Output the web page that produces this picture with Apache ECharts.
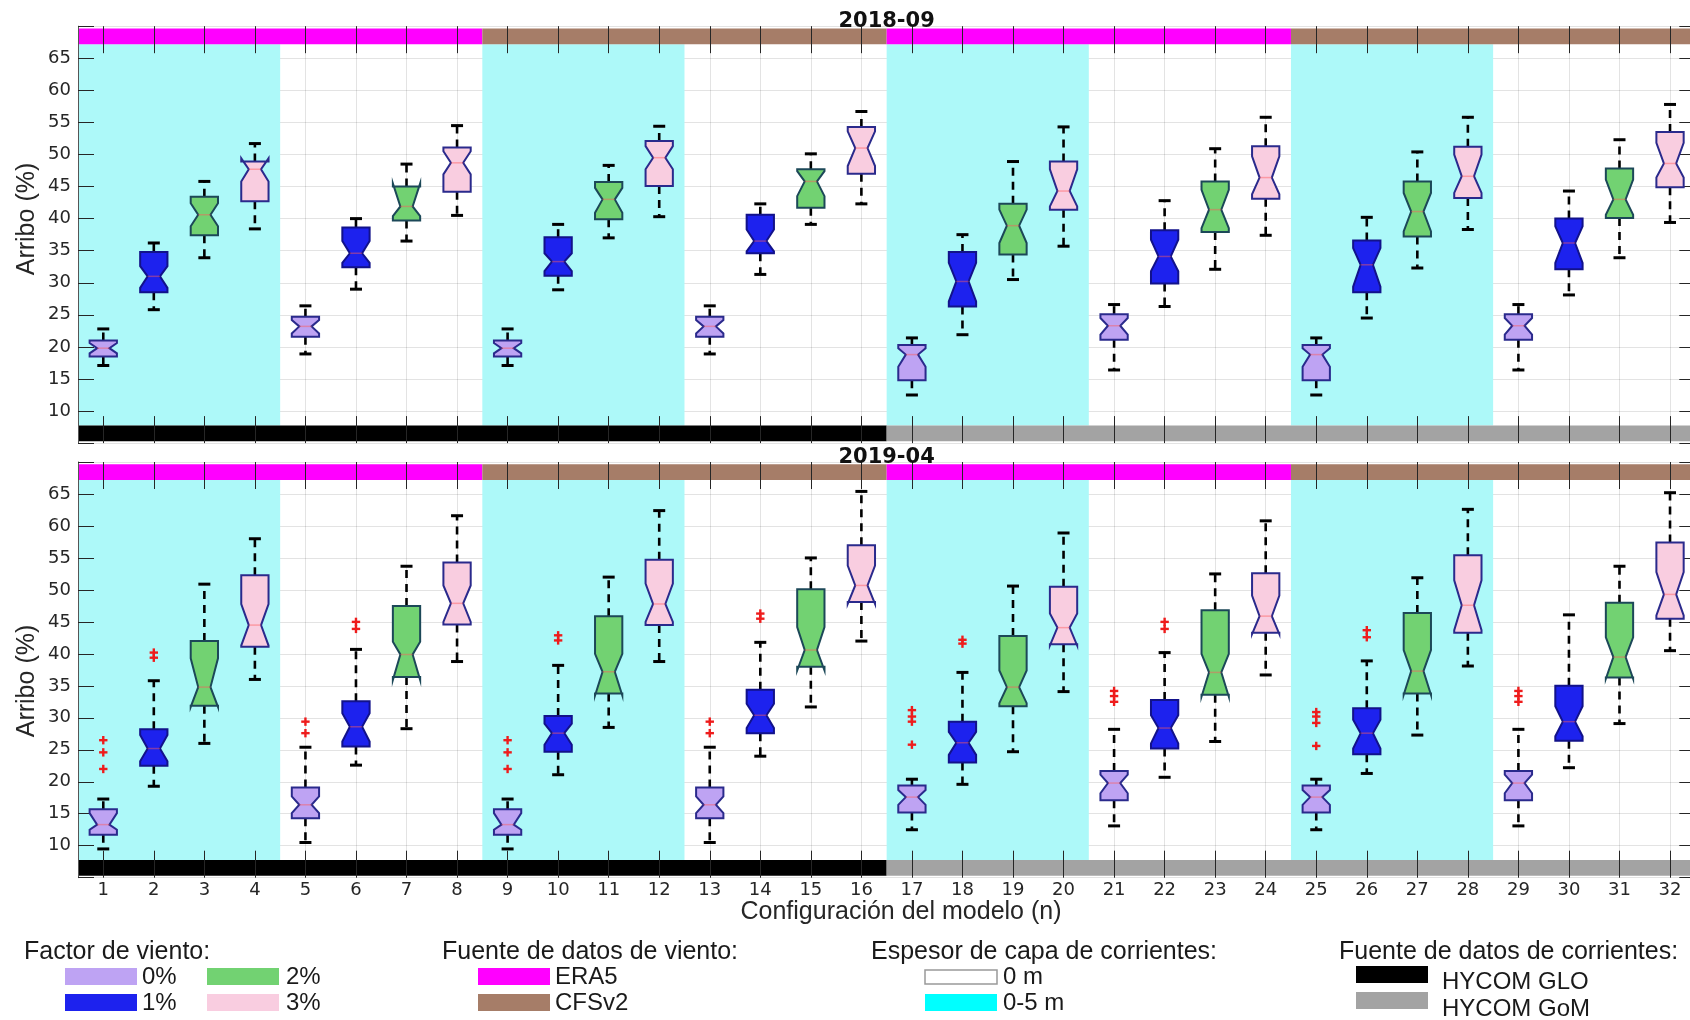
<!DOCTYPE html>
<html><head><meta charset="utf-8">
<script src="https://cdn.jsdelivr.net/npm/echarts@6/dist/echarts.min.js"></script>
<style>html,body{margin:0;padding:0;background:#fff}#c{width:1690px;height:1020px}</style>
</head><body><div id="c"></div>
<script>
// ---------------- categories ----------------
const configs = [1,2,3,4,5,6,7,8,9,10,11,12,13,14,15,16,17,18,19,20,21,22,23,24,25,26,27,28,29,30,31,32];
const yTicks = [10,15,20,25,30,35,40,45,50,55,60,65];
const windFactor = ['0%','1%','2%','3%','0%','1%','2%','3%','0%','1%','2%','3%','0%','1%','2%','3%',
                    '0%','1%','2%','3%','0%','1%','2%','3%','0%','1%','2%','3%','0%','1%','2%','3%'];
const windSource = ['ERA5','ERA5','ERA5','ERA5','ERA5','ERA5','ERA5','ERA5','CFSv2','CFSv2','CFSv2','CFSv2','CFSv2','CFSv2','CFSv2','CFSv2',
                    'ERA5','ERA5','ERA5','ERA5','ERA5','ERA5','ERA5','ERA5','CFSv2','CFSv2','CFSv2','CFSv2','CFSv2','CFSv2','CFSv2','CFSv2'];
const layerDepth = ['0-5 m','0-5 m','0-5 m','0-5 m','0 m','0 m','0 m','0 m','0-5 m','0-5 m','0-5 m','0-5 m','0 m','0 m','0 m','0 m',
                    '0-5 m','0-5 m','0-5 m','0-5 m','0 m','0 m','0 m','0 m','0-5 m','0-5 m','0-5 m','0-5 m','0 m','0 m','0 m','0 m'];
const currentSource = ['HYCOM GLO','HYCOM GLO','HYCOM GLO','HYCOM GLO','HYCOM GLO','HYCOM GLO','HYCOM GLO','HYCOM GLO',
                       'HYCOM GLO','HYCOM GLO','HYCOM GLO','HYCOM GLO','HYCOM GLO','HYCOM GLO','HYCOM GLO','HYCOM GLO',
                       'HYCOM GoM','HYCOM GoM','HYCOM GoM','HYCOM GoM','HYCOM GoM','HYCOM GoM','HYCOM GoM','HYCOM GoM',
                       'HYCOM GoM','HYCOM GoM','HYCOM GoM','HYCOM GoM','HYCOM GoM','HYCOM GoM','HYCOM GoM','HYCOM GoM'];
const panelTitles = ['2018-09','2019-04'];

// ---------------- 2018-09 box statistics ----------------
const top_lo  = [17.1,25.8,33.9,38.4,18.9,29.0,36.5,40.5, 17.1,28.9,37.0,40.3,18.9,31.3,39.1,42.3, 12.5,21.9,30.5,35.7,16.4,26.3,32.1,37.4, 12.5,24.5,32.3,38.3,16.4,28.1,33.9,39.4];
const top_q1  = [18.5,28.5,37.4,42.7,21.6,32.4,39.7,44.2, 18.5,31.1,39.9,45.1,21.6,34.6,41.7,47.0, 14.8,26.3,34.4,41.4,21.1,29.9,37.9,43.1, 14.8,28.5,37.2,43.2,21.1,32.1,40.1,44.9];
const top_nlo = [19.0,29.2,38.8,45.8,22.1,33.1,40.4,46.9, 19.0,31.8,40.9,47.7,22.1,34.9,43.5,48.2, 16.9,27.1,36.2,41.9,21.9,31.8,38.5,43.8, 16.9,29.4,38.0,44.0,21.9,33.1,40.6,46.4];
const top_med = [19.8,31.0,40.6,47.7,23.2,34.6,41.9,48.7, 19.8,33.3,43.0,49.5,23.2,36.5,45.8,51.0, 18.8,30.2,38.9,44.3,23.3,34.1,41.4,46.4, 18.8,32.8,41.1,46.6,23.3,36.2,43.0,48.6];
const top_nhi = [20.6,32.6,42.4,49.4,24.2,36.5,45.5,50.5, 20.6,34.6,44.8,51.3,24.2,38.3,47.4,53.6, 19.8,33.1,41.4,47.7,24.5,36.7,44.5,49.7, 19.8,35.4,44.0,50.0,24.5,38.8,46.1,51.8];
const top_q3  = [21.0,34.8,43.4,48.9,24.7,38.6,45.0,51.1, 21.0,37.1,45.7,52.1,24.7,40.6,47.7,54.3, 20.3,34.8,42.3,48.9,25.1,38.2,45.8,51.3, 20.3,36.6,45.8,51.2,25.1,40.0,47.8,53.5];
const top_hi  = [22.8,36.2,45.8,51.7,26.4,40.0,48.5,54.5, 22.8,39.1,48.3,54.4,26.4,42.3,50.1,56.7, 21.4,37.5,48.9,54.3,26.6,42.8,50.9,55.8, 21.4,40.2,50.4,55.8,26.6,44.3,52.3,57.8];
const top_outliers = [];

// ---------------- 2019-04 box statistics ----------------
const bot_lo  = [9.5,19.3,26.0,36.0,10.5,22.6,28.3,38.8, 9.5,21.1,28.5,38.8,10.5,24.0,31.7,42.0, 12.5,19.6,24.7,34.1,13.1,20.7,26.3,36.7, 12.5,21.3,27.3,38.1,13.1,22.2,29.1,40.5];
const bot_q1  = [11.7,22.5,31.9,41.1,14.3,25.5,36.4,44.6, 11.7,24.7,33.8,44.5,14.3,27.6,38.0,48.1, 15.2,23.0,31.8,41.5,17.1,25.2,33.6,43.3, 15.2,24.3,33.8,43.3,17.1,26.4,36.3,45.5];
const bot_nlo = [12.5,23.2,31.7,41.3,15.1,26.3,35.9,45.0, 12.5,25.8,33.5,45.0,15.1,28.4,37.4,47.8, 16.4,24.2,32.3,41.3,18.2,26.0,33.3,43.1, 16.4,25.2,33.6,43.7,18.2,27.1,36.1,46.0];
const bot_med = [13.3,25.2,34.8,44.5,16.4,28.6,39.9,47.9, 13.3,27.6,37.2,47.8,16.4,30.4,40.6,50.7, 17.6,26.1,34.8,44.1,19.8,28.4,37.1,45.9, 17.6,27.6,37.3,47.6,19.8,29.4,39.5,49.3];
const bot_nhi = [15.1,27.3,39.3,47.8,17.7,30.7,41.9,50.7, 15.1,29.1,40.0,51.0,17.7,32.2,44.2,53.8, 18.7,27.8,37.4,46.3,21.1,30.4,40.0,49.1, 18.7,29.7,40.6,51.5,21.1,31.8,42.6,52.8];
const bot_q3  = [15.7,28.2,42.0,52.3,19.1,32.6,47.5,54.3, 15.7,30.3,45.9,54.7,19.1,34.4,50.1,57.0, 19.4,29.4,42.8,50.5,21.7,32.8,46.8,52.6, 19.4,31.5,46.4,55.4,21.7,35.0,48.0,57.4];
const bot_hi  = [17.3,35.8,50.9,58.0,25.4,40.7,53.7,61.6, 17.3,38.2,52.0,62.4,25.4,41.8,55.0,65.4, 20.4,37.1,50.6,58.9,28.2,40.2,52.5,60.8, 20.4,38.9,51.9,62.6,28.2,46.1,53.7,65.2];
const bot_outliers = [[1,22.0],[1,24.6],[1,26.5],[2,39.4],[2,40.2],[5,27.6],[5,29.4],[6,43.9],[6,45.0],
  [9,22.0],[9,24.6],[9,26.5],[10,42.1],[10,42.9],[13,27.6],[13,29.4],[14,45.5],[14,46.3],
  [17,25.8],[17,29.4],[17,30.2],[17,31.2],[18,41.6],[18,42.2],[21,32.5],[21,33.4],[21,34.2],[22,43.9],[22,45.0],
  [25,25.6],[25,29.2],[25,30.2],[25,30.9],[26,42.6],[26,43.7],[29,32.5],[29,33.4],[29,34.2]];

// ---------------- styles ----------------
const factorStyle = {
  '0%': {fill:'#bea3f3', edge:'#2a2a8c'},
  '1%': {fill:'#1d22ee', edge:'#12128a'},
  '2%': {fill:'#72d272', edge:'#1c4858'},
  '3%': {fill:'#f9cde0', edge:'#2a2a8c'}
};
const windColor = {'ERA5':'#ff00ff','CFSv2':'#a67d68'};
const layerColor = {'0-5 m':'#adf9f9','0 m':'#ffffff'};
const currentColor = {'HYCOM GLO':'#000000','HYCOM GoM':'#a3a3a3'};
const TXT = '#262626';
const BOX_HALF = 0.27, NOTCH = 0.45, CAP_HALF_PX = 6;

const grids = [
  {left:78, top:26.2, width:1617.3, height:416.9},
  {left:78, top:462.0, width:1617.3, height:415.7}
];

function runs(arr){ // contiguous runs of equal values
  const out=[]; let s=0;
  for(let i=1;i<=arr.length;i++){
    if(i===arr.length || arr[i]!==arr[s]){ out.push({v:arr[s], from:configs[s]-0.5, to:configs[i-1]+0.5}); s=i; }
  }
  return out;
}

function boxData(lo,q1,nlo,med,nhi,q3,hi){
  return configs.map((c,i)=>[c,lo[i],q1[i],nlo[i],med[i],nhi[i],q3[i],hi[i]]);
}

function renderBox(params, api){
  const x = api.value(0);
  const lo=api.value(1), q1=api.value(2), nlo=api.value(3), med=api.value(4), nhi=api.value(5), q3=api.value(6), hi=api.value(7);
  const unit = api.size([1,0])[0];
  const cx = api.coord([x, med])[0];
  const Y = v => api.coord([x, v])[1];
  const hw = unit*BOX_HALF, nw = hw*NOTCH;
  const st = factorStyle[windFactor[params.dataIndex]];
  const pts = [[cx-hw,Y(q1)],[cx-hw,Y(nlo)],[cx-nw,Y(med)],[cx-hw,Y(nhi)],[cx-hw,Y(q3)],
               [cx+hw,Y(q3)],[cx+hw,Y(nhi)],[cx+nw,Y(med)],[cx+hw,Y(nlo)],[cx+hw,Y(q1)]];
  const wStyle = {stroke:'#000', lineWidth:2.6, lineDash:[8,6]};
  const cStyle = {stroke:'#000', lineWidth:3};
  return {type:'group', children:[
    {type:'line', shape:{x1:cx,y1:Y(q3),x2:cx,y2:Y(hi)}, style:wStyle},
    {type:'line', shape:{x1:cx,y1:Y(q1),x2:cx,y2:Y(lo)}, style:wStyle},
    {type:'line', shape:{x1:cx-CAP_HALF_PX,y1:Y(hi),x2:cx+CAP_HALF_PX,y2:Y(hi)}, style:cStyle},
    {type:'line', shape:{x1:cx-CAP_HALF_PX,y1:Y(lo),x2:cx+CAP_HALF_PX,y2:Y(lo)}, style:cStyle},
    {type:'polygon', shape:{points:pts}, style:{fill:st.fill, stroke:st.edge, lineWidth:2}},
    {type:'line', shape:{x1:cx-nw,y1:Y(med),x2:cx+nw,y2:Y(med)}, style:{stroke:'rgba(255,90,90,0.45)', lineWidth:1.5}}
  ]};
}

function renderOutlier(params, api){
  const p = api.coord([api.value(0), api.value(1)]);
  const s = 4.2;
  const st = {stroke:'#ee1c1c', lineWidth:2.4};
  return {type:'group', children:[
    {type:'line', shape:{x1:p[0]-s,y1:p[1],x2:p[0]+s,y2:p[1]}, style:st},
    {type:'line', shape:{x1:p[0],y1:p[1]-s,x2:p[0],y2:p[1]+s}, style:st}
  ]};
}

const panels = [
  {box: boxData(top_lo,top_q1,top_nlo,top_med,top_nhi,top_q3,top_hi), out: top_outliers},
  {box: boxData(bot_lo,bot_q1,bot_nlo,bot_med,bot_nhi,bot_q3,bot_hi), out: bot_outliers}
];

const xAxes=[], yAxes=[], series=[];
panels.forEach((p,g)=>{
  const tickStyle = {color:TXT, width:1};
  xAxes.push({type:'value', gridIndex:g, min:0.5, max:32.5, position:'bottom', z:1,
    axisLine:{show:false},
    axisTick:{show:true, inside:true, length:27, customValues:configs, lineStyle:tickStyle},
    axisLabel:{show:g===1, customValues:configs, fontSize:18, fontFamily:'DejaVu Sans', color:TXT, margin:4},
    splitLine:{show:true, lineStyle:{color:'rgba(0,0,0,0.11)', width:1}}
  });
  xAxes.push({type:'value', gridIndex:g, min:0.5, max:32.5, position:'top', z:1,
    axisLine:{show:false},
    axisTick:{show:true, inside:true, length:27, customValues:configs, lineStyle:tickStyle},
    axisLabel:{show:false}, splitLine:{show:false}
  });
  yAxes.push({type:'value', gridIndex:g, min:5, max:70, interval:5, position:'left', z:1,
    axisLine:{show:true, lineStyle:{color:'#555', width:1}},
    axisTick:{show:true, inside:true, length:16, lineStyle:tickStyle},
    axisLabel:{fontSize:18, fontFamily:'DejaVu Sans', color:TXT, margin:7,
      formatter: v => yTicks.indexOf(v) >= 0 ? String(v) : ''},
    splitLine:{show:true, lineStyle:{color:'rgba(0,0,0,0.11)', width:1}}
  });
  yAxes.push({type:'value', gridIndex:g, min:5, max:70, interval:5, position:'right', z:1,
    axisLine:{show:true, lineStyle:{color:'#555', width:1}},
    axisTick:{show:true, inside:true, length:16, lineStyle:tickStyle},
    axisLabel:{show:false}, splitLine:{show:false}
  });
  const xi = g*2, yi = g*2;
  // background (current-layer thickness)
  series.push({type:'line', xAxisIndex:xi, yAxisIndex:yi, data:[], z:0, silent:true,
    markArea:{silent:true, data: runs(layerDepth).filter(r=>r.v==='0-5 m').map(r=>[
      {xAxis:r.from, yAxis:7.75, itemStyle:{color:layerColor[r.v]}},{xAxis:r.to, yAxis:67.2}])}
  });
  // boxes
  series.push({type:'custom', xAxisIndex:xi, yAxisIndex:yi, z:2, renderItem:renderBox,
    encode:{x:0, y:[1,7]}, data:p.box, clip:false});
  series.push({type:'custom', xAxisIndex:xi, yAxisIndex:yi, z:4, renderItem:renderOutlier,
    encode:{x:0, y:1}, data:p.out});
  // top band: wind source; bottom band: current source
  series.push({type:'line', xAxisIndex:xi, yAxisIndex:yi, data:[], z:3, silent:true,
    markArea:{silent:true, data: runs(windSource).map(r=>[
      {xAxis:r.from, yAxis:67.2, itemStyle:{color:windColor[r.v], opacity:1}},{xAxis:r.to, yAxis:69.65}])
      .concat(runs(currentSource).map(r=>[
      {xAxis:r.from, yAxis:5.3, itemStyle:{color:currentColor[r.v], opacity:1}},{xAxis:r.to, yAxis:7.75}]))}
  });
});

// ---------------- legend & labels as graphics ----------------
const LF = '"Liberation Sans", Arial, sans-serif';
function txt(x,y,t,opt){ opt=opt||{};
  return {type:'text', x:x, y:y, rotation:opt.rot||0, z:100, style:{text:t, fill:opt.color||'#1a1a1a',
    font:(opt.weight||'normal')+' '+(opt.size||24)+'px '+(opt.family||LF), align:opt.align||'left', verticalAlign:'middle'}};
}
function sw(x,y,color,stroke){ return {type:'rect', z:100, shape:{x:x,y:y,width:72,height:17},
  style:{fill:color, stroke:stroke||null, lineWidth:stroke?1.5:0}}; }

const H = {size:25};
const graphics = [
  txt(886.6, 21.5, panelTitles[0], {weight:'bold', size:21, family:'"DejaVu Sans"', align:'center', color:'#111'}),
  txt(886.6, 457.5, panelTitles[1], {weight:'bold', size:21, family:'"DejaVu Sans"', align:'center', color:'#111'}),
  txt(27, 219, 'Arribo (%)', {rot:Math.PI/2, align:'center', size:25, color:TXT}),
  txt(27, 681, 'Arribo (%)', {rot:Math.PI/2, align:'center', size:25, color:TXT}),
  txt(901, 912, 'Configuración del modelo (n)', {align:'center', size:25, color:TXT}),

  txt(24, 952, 'Factor de viento:', H),
  sw(65, 968, factorStyle['0%'].fill), txt(142, 977, '0%'),
  sw(207, 968, factorStyle['2%'].fill), txt(286, 977, '2%'),
  sw(65, 994, factorStyle['1%'].fill), txt(142, 1003, '1%'),
  sw(207, 994, factorStyle['3%'].fill), txt(286, 1003, '3%'),

  txt(442, 952, 'Fuente de datos de viento:', H),
  sw(478, 968, windColor['ERA5']), txt(555, 977, 'ERA5'),
  sw(478, 994, windColor['CFSv2']), txt(555, 1003, 'CFSv2'),

  txt(871, 952, 'Espesor de capa de corrientes:', H),
  {type:'rect', z:100, shape:{x:925,y:970,width:72,height:14}, style:{fill:'#fff', stroke:'#999', lineWidth:1.5}},
  txt(1003, 977, '0 m'),
  sw(925, 994, '#00ffff'), txt(1003, 1003, '0-5 m'),

  txt(1339, 952, 'Fuente de datos de corrientes:', H),
  sw(1356, 966, currentColor['HYCOM GLO']), txt(1442, 982, 'HYCOM GLO'),
  sw(1356, 992, currentColor['HYCOM GoM']), txt(1442, 1009, 'HYCOM GoM')
];

const chart = echarts.init(document.getElementById('c'), null, {renderer:'canvas'});
chart.setOption({
  animation:false,
  backgroundColor:'#ffffff',
  grid: grids.map(g=>Object.assign({containLabel:false, outerBoundsMode:'none'}, g)),
  xAxis: xAxes, yAxis: yAxes, series: series, graphic: graphics
});
</script></body></html>
